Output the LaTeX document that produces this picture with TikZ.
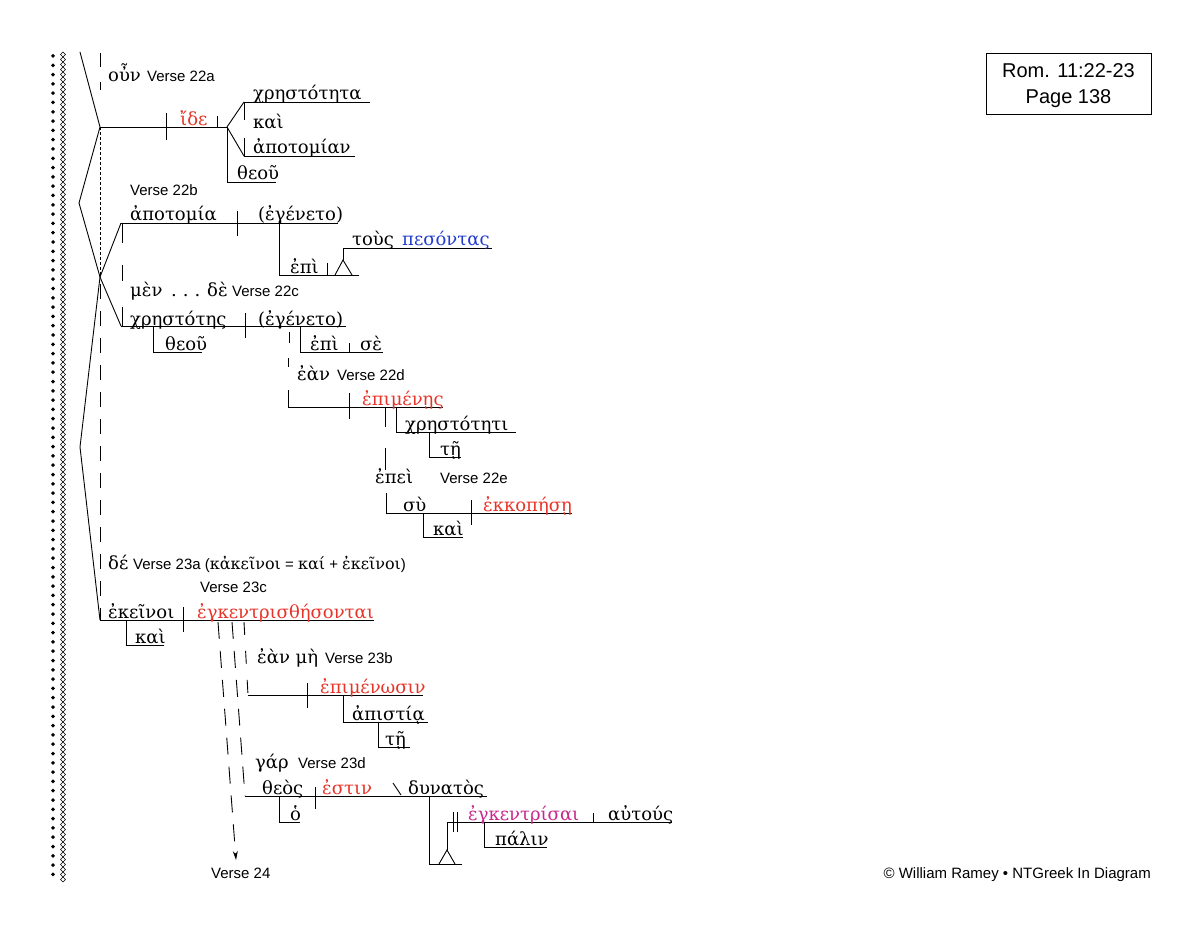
\documentclass[tikz,border=0pt]{standalone}
\usepackage{fontspec}
\usetikzlibrary{arrows.meta}
\newfontfamily\gr{DejaVu Serif}
\newfontfamily\sa{Liberation Sans}
\definecolor{gred}{RGB}{232,52,40}
\definecolor{gblue}{RGB}{35,60,205}
\definecolor{gmag}{RGB}{200,40,140}
\newcommand{\grs}{\gr\fontsize{16}{18}\selectfont}
\newcommand{\sas}{\sa\fontsize{15}{17}\selectfont}
\tikzset{
  gk/.style={anchor=base west, inner sep=0pt, font=\gr\fontsize{18}{20}\selectfont},
  vs/.style={anchor=base west, inner sep=0pt, font=\sa\fontsize{15}{17}\selectfont},
  ln/.style={line width=0.9pt},
  ldash/.style={line width=0.9pt, dash pattern=on 15pt off 12pt},
  sdash/.style={line width=0.9pt, dash pattern=on 17pt off 12pt},
  fdash/.style={line width=0.8pt, dash pattern=on 3pt off 2pt},
  tip/.style={-{Stealth[length=9pt,width=5pt]}},
}
\begin{document}
\begin{tikzpicture}[x=1pt,y=-1pt]
\useasboundingbox[fill=white] (0,0) rectangle (1200,928);
% left border
\foreach \k in {0,...,88} {
  \fill (53,54+9.3*\k) -- ++(2,2) -- ++(-2,2) -- ++(-2,-2) -- cycle;
}
\foreach \k in {0,...,165} {
  \draw[line width=0.5pt] (63,52+5*\k) -- ++(2.6,2.5) -- ++(-2.6,2.5) -- ++(-2.6,-2.5) -- cycle;
}
% left structure
\draw[ln] (80,52) -- (100,127) -- (79,203) -- (100,277) -- (80,447) -- (100,620);
\draw[ln] (121,223) -- (100,277) -- (121,326);
\draw[ln] (100,53) -- (100,67);
\draw[ln] (100,82) -- (100,90);
\draw[fdash] (100,127) -- (100,277);
\draw[ldash] (100,284) -- (100,620);

% Clause 22a
\node[gk] (oun) at (108,82) {οὖν};
\node[vs] (v22a) at (147,82) {Verse 22a};
\draw[ln] (100,127) -- (227,127);
\draw[ln] (166,113) -- (166,140);
\node[gk, text=gred] (ide) at (180,126) {ἴδε};
\draw[ln] (217,116) -- (217,127);
\draw[ln] (244,102) -- (227,127) -- (244,156);
\draw[ln] (244,102) -- (370,102);
\draw[ln] (244,156) -- (355,156);
\draw[ln] (244,102) -- (244,120);
\draw[ln] (244,138) -- (244,156);
\node[gk] (xrt) at (253,100) {χρηστότητα};
\node[gk] (kai1) at (253,129) {καὶ};
\node[gk] (apot1) at (253,154) {ἀποτομίαν};
\draw[ln] (227,127) -- (227,182) -- (276,182);
\node[gk] (theou1) at (237,180) {θεοῦ};

% Clause 22b
\node[vs] (v22b) at (130,196) {Verse 22b};
\draw[ln] (121,223) -- (338,223);
\draw[ln] (237,211) -- (237,236);
\node[gk] (apot2) at (130,221) {ἀποτομία};
\node[gk] (eg1) at (258,221) {(ἐγένετο)};
\draw[ln] (122,223) -- (122,243);
\draw[ln] (122,265) -- (122,281);
\draw[ln] (122,307) -- (122,326);
\draw[ln] (279,223) -- (279,275) -- (359,275);
\draw[ln] (327,263) -- (327,275);
\node[gk] (epi1) at (290,273) {ἐπὶ};
\draw[ln] (335,275) -- (343,260) -- (352,275);
\draw[ln] (343,260) -- (343,248) -- (492,248);
\node[gk] (tous) at (352,246) {τοὺς};
\node[gk, text=gblue] (pes) at (402,246) {πεσόντας};

% Clause 22c
\node[gk] (men) at (130,296) {μὲν};
\node[gk] (dots) at (171,296) {.\hspace{6pt}.\hspace{6pt}.};
\node[gk] (de1) at (207,296) {δὲ};
\node[vs] (v22c) at (232,296) {Verse 22c};
\draw[ln] (121,326) -- (346,326);
\draw[ln] (245,313) -- (245,338);
\node[gk] (xrts) at (130,325) {χρηστότης};
\node[gk] (eg2) at (258,325) {(ἐγένετο)};
\draw[ln] (153,326) -- (153,352) -- (202,352);
\node[gk] (theou2) at (165,350) {θεοῦ};
\draw[ln] (300,326) -- (300,352) -- (383,352);
\draw[ln] (349,343) -- (349,352);
\node[gk] (epi2) at (310,350) {ἐπὶ};
\node[gk] (se) at (360,350) {σὲ};

% Clause 22d
\draw[ln] (289,332) -- (289,343);
\draw[ln] (288,358) -- (288,367);
\draw[ln] (288,390) -- (288,407);
\node[gk] (ean1) at (297,380) {ἐὰν};
\node[vs] (v22d) at (337,380) {Verse 22d};
\draw[ln] (288,407) -- (443,407);
\draw[ln] (349,393) -- (349,419);
\node[gk, text=gred] (epimenes) at (362,405) {ἐπιμένῃς};
\draw[ln] (396,407) -- (396,432) -- (516,432);
\node[gk] (xrti) at (405,430) {χρηστότητι};
\draw[ln] (429,432) -- (429,457) -- (461,457);
\node[gk] (te1) at (440,455) {τῇ};

% Clause 22e
\draw[ln] (385,407) -- (385,427);
\draw[ln] (385,448) -- (385,470);
\draw[ln] (386,493) -- (386,513);
\node[gk] (epei) at (375,483) {ἐπεὶ};
\node[vs] (v22e) at (440,483) {Verse 22e};
\draw[ln] (386,513) -- (572,513);
\draw[ln] (471,500) -- (471,525);
\node[gk] (su) at (403,511) {σὺ};
\node[gk, text=gred] (ekk) at (483,511) {ἐκκοπήσῃ};
\draw[ln] (423,513) -- (423,537) -- (463,537);
\node[gk] (kai2) at (433,535) {καὶ};

% Verse 23a / 23c
\node[gk] (de) at (108,569) {δέ};
\node[vs] (v23a) at (133,569) {Verse 23a (\grs κἀκεῖνοι\sas{} = \grs καί\sas{} + \grs ἐκεῖνοι\sas)};
\node[vs] (v23c) at (200,592) {Verse 23c};
\draw[ln] (100,620) -- (374,620);
\draw[ln] (183,607) -- (183,632);
\node[gk] (ekeinoi) at (108,618) {ἐκεῖνοι};
\node[gk, text=gred] (egkth) at (197,618) {ἐγκεντρισθήσονται};
\draw[ln] (126,620) -- (126,645) -- (164,645);
\node[gk] (kai3) at (135,643) {καὶ};
\coordinate (a1) at (218,622);
\coordinate (v24pt) at (236,860);
\draw[sdash, tip] (a1) -- (v24pt);
\draw[sdash] (232,622) -- (245,796);
\draw[line width=0.9pt, dash pattern=on 13pt off 16pt] (244,622) -- (248,695);
\node[vs] (v24) at (211,878) {Verse 24};

% Clause 23b
\node[gk] (eanme) at (257,663) {ἐὰν μὴ};
\node[vs] (v23b) at (325,663) {Verse 23b};
\draw[ln] (248,695) -- (423,695);
\draw[ln] (307,683) -- (307,708);
\node[gk, text=gred] (epimenosin) at (320,693) {ἐπιμένωσιν};
\draw[ln] (343,695) -- (343,722) -- (428,722);
\node[gk] (apistia) at (352,720) {ἀπιστίᾳ};
\draw[ln] (378,722) -- (378,747) -- (410,747);
\node[gk] (te2) at (385,745) {τῇ};

% Clause 23d
\node[gk] (gar) at (255,768) {γάρ};
\node[vs] (v23d) at (298,768) {Verse 23d};
\draw[ln] (245,796) -- (487,796);
\draw[ln] (315,787) -- (315,809);
\draw[ln] (393,783) -- (401,795);
\node[gk] (theos) at (262,794) {θεὸς};
\node[gk, text=gred] (estin) at (322,794) {ἐστιν};
\node[gk] (dynatos) at (408,794) {δυνατὸς};
\draw[ln] (279,796) -- (279,822) -- (300,822);
\node[gk] (ho) at (290,820) {ὁ};
\draw[ln] (429,796) -- (429,864) -- (462,864);
\draw[ln] (439,864) -- (447,850) -- (455,864);
\draw[ln] (447,850) -- (447,822) -- (672,822);
\draw[ln] (453,812) -- (453,832);
\draw[ln] (457,812) -- (457,832);
\draw[ln] (593,813) -- (593,822);
\node[gk, text=gmag] (egkr) at (468,820) {ἐγκεντρίσαι};
\node[gk] (autous) at (608,820) {αὐτούς};
\draw[ln] (484,822) -- (484,847) -- (547,847);
\node[gk] (palin) at (495,845) {πάλιν};

% title box
\draw[line width=0.9pt] (986,53) rectangle (1151,114);
\node[anchor=base, inner sep=0pt, font=\sa\fontsize{20}{22}\selectfont] (t1) at (1068.5,78) {Rom. 11:22-23};
\node[anchor=base, inner sep=0pt, font=\sa\fontsize{20}{22}\selectfont] (t2) at (1068.5,104) {Page 138};
\node[anchor=base east, inner sep=0pt, font=\sa\fontsize{15}{17}\selectfont] (copy) at (1151,878) {© William Ramey • NTGreek In Diagram};
\end{tikzpicture}
\end{document}
